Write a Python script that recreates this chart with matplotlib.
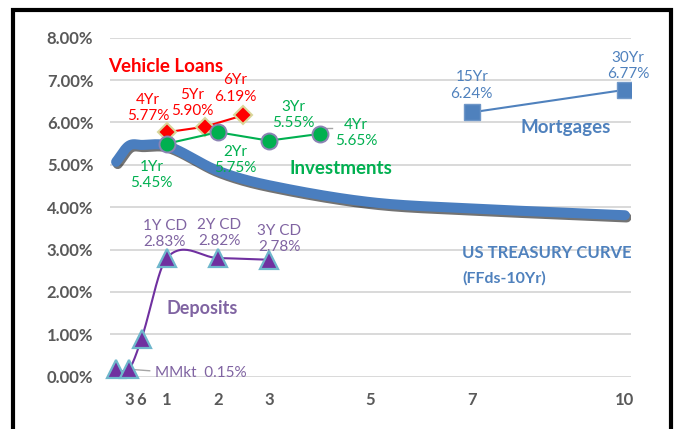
"""Bank rate comparison vs the US treasury curve."""

import numpy as np
import matplotlib

matplotlib.use("Agg", force=True)
import matplotlib.pyplot as plt
import matplotlib.patheffects as pe
from matplotlib.patches import Rectangle

plt.rcParams["font.family"] = ["Lato", "DejaVu Sans"]

# maturities in years (0 = fed funds / money market)
treasury_x = [0, 0.25, 0.5, 1, 2, 3, 5, 7, 10]
treasury_y = [5.07, 5.45, 5.47, 5.45, 4.86, 4.52, 4.12, 3.97, 3.81]

vehicle_x = [1, 1.75, 2.5]
vehicle_y = [5.77, 5.90, 6.17]
vehicle_labels = ["4Yr\n5.77%", "5Yr\n5.90%", "6Yr\n6.19%"]

invest_x = [1, 2, 3, 4]
invest_y = [5.50, 5.77, 5.57, 5.73]
invest_labels = ["1Yr\n5.45%", "2Yr\n5.75%", "3Yr\n5.55%", "4Yr\n5.65%"]

mortgage_x = [7, 10]
mortgage_y = [6.24, 6.77]
mortgage_labels = ["15Yr\n6.24%", "30Yr\n6.77%"]

deposit_x = [0, 0.25, 0.5, 1, 2, 3]
deposit_y = [0.17, 0.17, 0.90, 2.81, 2.80, 2.76]
deposit_labels = ["1Y CD\n2.83%", "2Y CD\n2.82%", "3Y CD\n2.78%"]

tick_pos = [0.25, 0.5, 1, 2, 3, 5, 7, 10]
tick_text = ["3", "6", "1", "2", "3", "5", "7", "10"]


def _smooth(x, y, n=30):
    """Cubic Hermite through the points with centred-difference slopes
    (gives the look of an Excel 'smoothed line')."""
    x = np.asarray(x, dtype=float)
    y = np.asarray(y, dtype=float)
    m = np.empty_like(y)
    m[0] = (y[1] - y[0]) / (x[1] - x[0])
    m[-1] = (y[-1] - y[-2]) / (x[-1] - x[-2])
    m[1:-1] = (y[2:] - y[:-2]) / (x[2:] - x[:-2])
    xs, ys = [], []
    t = np.linspace(0, 1, n, endpoint=False)
    h00 = 2 * t**3 - 3 * t**2 + 1
    h10 = t**3 - 2 * t**2 + t
    h01 = -2 * t**3 + 3 * t**2
    h11 = t**3 - t**2
    for i in range(len(x) - 1):
        h = x[i + 1] - x[i]
        xs.append(x[i] + t * h)
        ys.append(h00 * y[i] + h10 * h * m[i] + h01 * y[i + 1] + h11 * h * m[i + 1])
    xs.append([x[-1]])
    ys.append([y[-1]])
    return np.concatenate(xs), np.concatenate(ys)


red = "#FF0000"
green = "#00B050"
blue = "#4F81BD"
tblue = "#4A7EBF"
purple = "#7030A0"
lpurple = "#8064A2"
gray = "#595959"

fig = plt.figure(figsize=(6.77, 4.29), dpi=100)
ax = fig.add_axes([110 / 677, 1 - 376.7 / 429, 521 / 677, 339 / 429])

ax.set_xlim(-0.12, 10.12)
ax.set_ylim(0, 8)
ax.set_yticks(range(9))
ax.set_yticklabels([f"{v:.2f}%" for v in range(9)])
ax.set_xticks(tick_pos)
ax.set_xticklabels(tick_text)
ax.tick_params(length=0, labelsize=12, labelcolor=gray)
ax.tick_params(axis="y", pad=12)
ax.tick_params(axis="x", pad=11)
for lab in ax.get_xticklabels() + ax.get_yticklabels():
    lab.set_fontweight("bold")
for s in ax.spines.values():
    s.set_visible(False)
ax.grid(axis="y", color="#D9D9D9", linewidth=1.4)
ax.set_axisbelow(True)

# treasury curve, thick with a soft shadow
sx, sy = _smooth(treasury_x, treasury_y)
ax.plot(sx, sy, color=tblue, linewidth=7.2, solid_capstyle="round", zorder=2,
        path_effects=[pe.SimpleLineShadow(offset=(1.2, -1.6), shadow_color="black", alpha=0.55),
                      pe.Normal()])

# deposits
dx, dy = _smooth(deposit_x, deposit_y)
ax.plot(dx, dy, color=purple, linewidth=1.5, zorder=3)
ax.plot(deposit_x, deposit_y, linestyle="none", marker="^", markersize=13,
        markerfacecolor=purple, markeredgecolor="#6FB7CC", markeredgewidth=1.6,
        zorder=4, clip_on=False)

# vehicle loans
ax.plot(vehicle_x, vehicle_y, color=red, linewidth=1.5, marker="D", markersize=9.5,
        markerfacecolor=red, markeredgecolor="#D9D79A", markeredgewidth=1.5, zorder=4)

# investments
ax.plot(invest_x, invest_y, color=green, linewidth=1.5, marker="o", markersize=11.5,
        markerfacecolor=green, markeredgecolor="#8C83B4", markeredgewidth=1.4, zorder=5)

# mortgages
ax.plot(mortgage_x, mortgage_y, color=blue, linewidth=1.5, marker="s", markersize=11.5,
        markerfacecolor=blue, markeredgecolor="#6F97C8", markeredgewidth=1.0, zorder=4)

lbl = dict(ha="center", va="center", fontsize=11, linespacing=1.2)

for (x, y), t in zip([(0.63, 6.34), (1.49, 6.45), (2.34, 6.80)], vehicle_labels):
    ax.text(x, y, t, color=red, **lbl)
for (x, y), t in zip([(0.70, 4.76), (2.34, 5.11), (3.48, 6.18), (4.72, 5.75)], invest_labels):
    ax.text(x, y, t, color=green, **lbl)
for (x, y), t in zip([(6.99, 6.87), (10.06, 7.34)], mortgage_labels):
    ax.text(x, y, t, color=blue, **lbl)
for (x, y), t in zip([(0.96, 3.37), (2.03, 3.40), (3.21, 3.25)], deposit_labels):
    ax.text(x, y, t, color=lpurple, **lbl)

ax.plot([0.32, 0.66], [0.17, 0.14], color="#A6A6A6", linewidth=1.0, zorder=3)
ax.text(0.77, 0.09, "MMkt  0.15%", color=lpurple, fontsize=11, ha="left", va="center")
ax.plot([4.05, 4.25], [5.88, 5.88], color="#A6A6A6", linewidth=1.0, zorder=3)

ax.text(0.97, 7.33, "Vehicle Loans", color=red, fontsize=13.5, fontweight="bold",
        ha="center", va="center")
ax.text(4.41, 4.92, "Investments", color=green, fontsize=13.5, fontweight="bold",
        ha="center", va="center")
ax.text(8.84, 5.87, "Mortgages", color=blue, fontsize=13.5, fontweight="bold",
        ha="center", va="center")
ax.text(6.80, 2.92, "US TREASURY CURVE", color=blue, fontsize=12, fontweight="bold",
        ha="left", va="center")
ax.text(6.80, 2.33, "(FFds-10Yr)", color=blue, fontsize=11.5, fontweight="bold",
        ha="left", va="center")
ax.text(1.70, 1.60, "Deposits", color=lpurple, fontsize=13, fontweight="bold",
        ha="center", va="center")

# outer black frame
fig.patches.append(Rectangle((13 / 677, -0.05), (670.5 - 13) / 677, 1.05 - 9.5 / 429,
                             transform=fig.transFigure, fill=False, edgecolor="black",
                             linewidth=3.0, zorder=10))

fig.savefig("out.png", dpi=100)
plt.close(fig)
